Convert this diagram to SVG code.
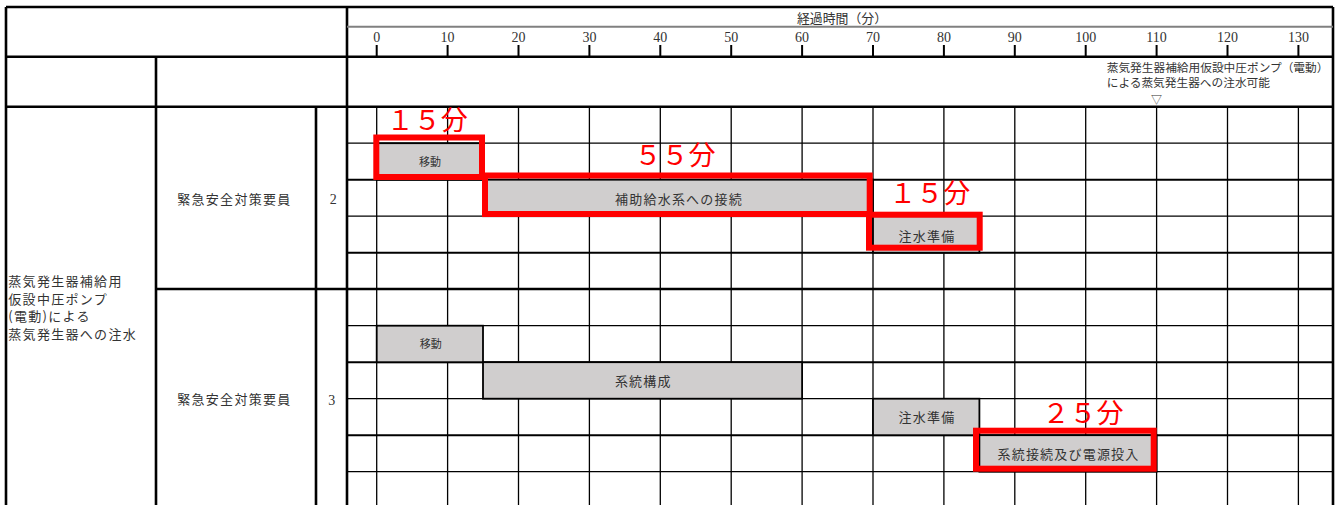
<svg xmlns="http://www.w3.org/2000/svg" width="1340" height="505" viewBox="0 0 1340 505">
<style>
.t{font-family:"Noto Sans CJK JP","Noto Sans CJK SC",sans-serif;fill:#333}
.lb{font-size:13px;letter-spacing:1.3px}
.sm{font-size:11px;text-anchor:middle}
.bl{font-size:13px;letter-spacing:1.2px;text-anchor:middle}
.n{font-family:"Liberation Serif",serif;fill:#333;font-size:14px;text-anchor:middle}
.fr{stroke:#000;stroke-width:2.6;fill:none}
.g{stroke:#000;stroke-width:1.3}
.gb{stroke:#000;stroke-width:2}
.tk{stroke:#000;stroke-width:2}
.bar{fill:#d0cece;stroke:#000;stroke-width:1.8}
.hl{fill:none;stroke:#ff0000;stroke-width:6}
.red{font-family:"Noto Sans CJK JP",sans-serif;fill:#ff0000;font-size:27px;text-anchor:middle}
</style>
<rect width="1340" height="505" fill="#fff"/>

<g id="grid">
  <g class="g">
    <line x1="376.7" y1="107" x2="376.7" y2="505"/>
    <line x1="447.6" y1="107" x2="447.6" y2="505"/>
    <line x1="518.5" y1="107" x2="518.5" y2="505"/>
    <line x1="589.4" y1="107" x2="589.4" y2="505"/>
    <line x1="660.3" y1="107" x2="660.3" y2="505"/>
    <line x1="731.2" y1="107" x2="731.2" y2="505"/>
    <line x1="802.1" y1="107" x2="802.1" y2="505"/>
    <line x1="873" y1="107" x2="873" y2="505"/>
    <line x1="943.9" y1="107" x2="943.9" y2="505"/>
    <line x1="1014.8" y1="107" x2="1014.8" y2="505"/>
    <line x1="1085.7" y1="107" x2="1085.7" y2="505"/>
    <line x1="1156.6" y1="107" x2="1156.6" y2="505"/>
    <line x1="1227.5" y1="107" x2="1227.5" y2="505"/>
    <line x1="1298.4" y1="107" x2="1298.4" y2="505"/>
    <line x1="347" y1="143.2" x2="1333" y2="143.2"/>
    <line x1="347" y1="216.2" x2="1333" y2="216.2"/>
    <line x1="347" y1="325.7" x2="1333" y2="325.7"/>
    <line x1="347" y1="398.7" x2="1333" y2="398.7"/>
    <line x1="347" y1="471.7" x2="1333" y2="471.7"/>
  </g>
  <g class="gb">
    <line x1="347" y1="179.7" x2="1333" y2="179.7"/>
    <line x1="347" y1="252.7" x2="1333" y2="252.7"/>
    <line x1="347" y1="362.2" x2="1333" y2="362.2"/>
    <line x1="347" y1="435.2" x2="1333" y2="435.2"/>
  </g>
</g>

<g id="frame" class="fr">
  <line x1="6" y1="7" x2="1333" y2="7"/>
  <line x1="6" y1="56.7" x2="1333" y2="56.7"/>
  <line x1="6" y1="106.7" x2="1333" y2="106.7"/>
  <line x1="156" y1="289" x2="1333" y2="289"/>
  <line x1="6" y1="7" x2="6" y2="505"/>
  <line x1="156" y1="56.7" x2="156" y2="505"/>
  <line x1="316" y1="106.7" x2="316" y2="505"/>
  <line x1="347" y1="7" x2="347" y2="505"/>
  <line x1="1333" y1="7" x2="1333" y2="505"/>
  <line x1="347" y1="26.7" x2="1333" y2="26.7" stroke="#808080" stroke-width="2"/>
</g>

<g id="axis">
  <text class="t" x="842" y="22.5" font-size="12.9" text-anchor="middle">経過時間（分）</text>
  <g class="tk">
    <line x1="376.7" y1="45" x2="376.7" y2="57"/>
    <line x1="447.6" y1="45" x2="447.6" y2="57"/>
    <line x1="518.5" y1="45" x2="518.5" y2="57"/>
    <line x1="589.4" y1="45" x2="589.4" y2="57"/>
    <line x1="660.3" y1="45" x2="660.3" y2="57"/>
    <line x1="731.2" y1="45" x2="731.2" y2="57"/>
    <line x1="802.1" y1="45" x2="802.1" y2="57"/>
    <line x1="873" y1="45" x2="873" y2="57"/>
    <line x1="943.9" y1="45" x2="943.9" y2="57"/>
    <line x1="1014.8" y1="45" x2="1014.8" y2="57"/>
    <line x1="1085.7" y1="45" x2="1085.7" y2="57"/>
    <line x1="1156.6" y1="45" x2="1156.6" y2="57"/>
    <line x1="1227.5" y1="45" x2="1227.5" y2="57"/>
    <line x1="1298.4" y1="45" x2="1298.4" y2="57"/>
  </g>
  <text class="n" x="376.7" y="41.5">0</text>
  <text class="n" x="447.6" y="41.5">10</text>
  <text class="n" x="518.5" y="41.5">20</text>
  <text class="n" x="589.4" y="41.5">30</text>
  <text class="n" x="660.3" y="41.5">40</text>
  <text class="n" x="731.2" y="41.5">50</text>
  <text class="n" x="802.1" y="41.5">60</text>
  <text class="n" x="873" y="41.5">70</text>
  <text class="n" x="943.9" y="41.5">80</text>
  <text class="n" x="1014.8" y="41.5">90</text>
  <text class="n" x="1085.7" y="41.5">100</text>
  <text class="n" x="1156.6" y="41.5">110</text>
  <text class="n" x="1227.5" y="41.5">120</text>
  <text class="n" x="1298.4" y="41.5">130</text>
</g>

<g id="milestone">
  <text class="t" x="1106.7" y="71.5" font-size="11.7">蒸気発生器補給用仮設中圧ポンプ（電動）</text>
  <text class="t" x="1106.7" y="87" font-size="11.7">による蒸気発生器への注水可能</text>
  <text class="t" x="1156.6" y="103.5" font-size="11" text-anchor="middle">▽</text>
</g>

<g id="row-labels">
  <text class="t lb" x="8.3" y="286">蒸気発生器補給用</text>
  <text class="t lb" x="8.3" y="303.7">仮設中圧ポンプ</text>
  <text class="t lb" x="8.3" y="321.4">(電動)による</text>
  <text class="t lb" x="8.3" y="339.1">蒸気発生器への注水</text>
  <text class="t lb" x="234.4" y="204" text-anchor="middle">緊急安全対策要員</text>
  <text class="n" x="333.3" y="203.5">2</text>
  <text class="t lb" x="234.4" y="404" text-anchor="middle">緊急安全対策要員</text>
  <text class="n" x="331.7" y="405">3</text>
</g>

<g id="bar-g1-move">
  <rect class="bar" x="376.7" y="143.2" width="106.3" height="36.5"/>
  <text class="t sm" x="430" y="165.8">移動</text>
</g>
<g id="bar-g1-connect">
  <rect class="bar" x="483" y="179.7" width="390" height="36.5"/>
  <text class="t bl" x="679" y="204">補助給水系への接続</text>
</g>
<g id="bar-g1-prep">
  <rect class="bar" x="873" y="216.2" width="106.4" height="36.5"/>
  <text class="t bl" x="927" y="240.5">注水準備</text>
</g>
<g id="bar-g2-move">
  <rect class="bar" x="376.7" y="325.7" width="106.3" height="36.5"/>
  <text class="t sm" x="430.7" y="348">移動</text>
</g>
<g id="bar-g2-system">
  <rect class="bar" x="483" y="362.2" width="319.1" height="36.5"/>
  <text class="t bl" x="643.3" y="386.3">系統構成</text>
</g>
<g id="bar-g2-prep">
  <rect class="bar" x="873" y="398.7" width="106.4" height="36.5"/>
  <text class="t bl" x="927" y="422.3">注水準備</text>
</g>
<g id="bar-g2-power">
  <rect class="bar" x="979.4" y="435.2" width="177.2" height="36.5"/>
  <text class="t bl" x="1068.5" y="459">系統接続及び電源投入</text>
</g>

<g id="highlights">
  <rect class="hl" x="485" y="175.5" width="384.7" height="38.5"/>
  <rect class="hl" x="376.3" y="137.5" width="105.7" height="39.5"/>
  <rect class="hl" x="869" y="214.7" width="110.7" height="33"/>
  <rect class="hl" x="976" y="430.7" width="177.7" height="38"/>
  <text class="red" x="427.3" y="129.7">１５分</text>
  <text class="red" x="675" y="164.7">５５分</text>
  <text class="red" x="929.7" y="203">１５分</text>
  <text class="red" x="1083" y="423">２５分</text>
</g>
</svg>
